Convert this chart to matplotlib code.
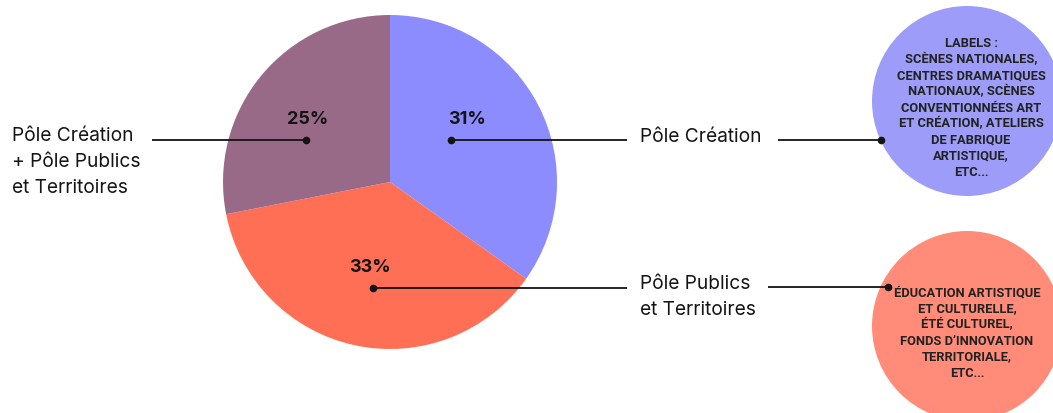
import matplotlib.pyplot as plt
from matplotlib.patches import Circle

# data
categories = ["Pôle Création", "Pôle Publics\net Territoires",
              "Pôle Création\n+ Pôle Publics\net Territoires"]
shares = [31, 33, 25]
pct_labels = ["31%", "33%", "25%"]
slice_colors = ["#8c8cff", "#ff6f55", "#996a87"]

blue_note = ("LABELS :\nSCÈNES NATIONALES,\nCENTRES DRAMATIQUES\nNATIONAUX, SCÈNES\n"
             "CONVENTIONNÉES ART\nET CRÉATION, ATELIERS\nDE FABRIQUE\nARTISTIQUE,\nETC...")
coral_note = ("ÉDUCATION ARTISTIQUE\nET CULTURELLE,\nÉTÉ CULTUREL,\n"
              "FONDS D’INNOVATION\nTERRITORIALE,\nETC...")

W, H = 1053, 414
INK = "#141414"
MAIN_FONT = ["Inter", "DejaVu Sans"]
NOTE_FONT = ["Roboto", "DejaVu Sans"]


def leader(ax, x0, x1, y, dot_x):
    # horizontal leader line with a dot at one end
    ax.plot([x0, x1], [y, y], color=INK, lw=1.3, solid_capstyle="butt", zorder=3)
    ax.plot([dot_x], [y], "o", color=INK, ms=4.5, zorder=4)


def main():
    fig = plt.figure(figsize=(W / 100, H / 100), dpi=100)
    ax = fig.add_axes([0, 0, 1, 1])

    # pie, in pixel coordinates (y up)
    ax.pie(shares, colors=slice_colors, startangle=90, counterclock=False,
           center=(390, H - 183), radius=167, wedgeprops=dict(linewidth=0))

    # leader lines from the slices
    leader(ax, 451, 627, H - 141, 451)   # blue slice
    leader(ax, 152, 306, H - 141, 306)   # mauve slice
    leader(ax, 373, 627, H - 289, 373)   # coral slice

    # percentages
    ax.text(467, H - 120, pct_labels[0], ha="center", va="center", fontsize=13,
            fontweight="bold", family=MAIN_FONT, color=INK)
    ax.text(370, H - 268, pct_labels[1], ha="center", va="center", fontsize=13,
            fontweight="bold", family=MAIN_FONT, color=INK)
    ax.text(308, H - 119, pct_labels[2], ha="center", va="center", fontsize=13,
            fontweight="bold", family=MAIN_FONT, color=INK)

    # category names
    ax.text(640, H - 137, categories[0], ha="left", va="center", fontsize=13.8,
            family=MAIN_FONT, color=INK)
    ax.text(640, H - 297, categories[1], ha="left", va="center", fontsize=13.8,
            family=MAIN_FONT, color=INK, linespacing=1.55)
    ax.text(12, H - 162, categories[2], ha="left", va="center", fontsize=13.8,
            family=MAIN_FONT, color=INK, linespacing=1.55)

    # note bubbles on the right
    ax.add_patch(Circle((967, H - 102), 95, color="#9d9df9", lw=0, zorder=1))
    ax.add_patch(Circle((967, H - 327), 95, color="#ff8b78", lw=0, zorder=1))
    leader(ax, 778, 881, H - 141, 881)
    leader(ax, 768, 888, H - 288, 888)
    ax.text(971, H - 108, blue_note, ha="center", va="center", fontsize=9.3,
            fontweight="bold", family=NOTE_FONT, color="#222222", linespacing=1.3)
    ax.text(967, H - 333, coral_note, ha="center", va="center", fontsize=9.3,
            fontweight="bold", family=NOTE_FONT, color="#222222", linespacing=1.3)

    ax.set_xlim(0, W)
    ax.set_ylim(0, H)
    ax.set_aspect("equal")
    ax.axis("off")
    fig.savefig("out.png", dpi=100)


if __name__ == "__main__":
    main()
